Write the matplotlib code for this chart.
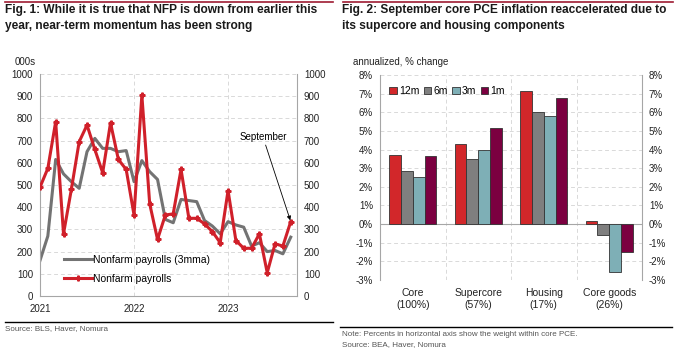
import matplotlib
matplotlib.use("Agg")
import matplotlib.pyplot as plt
from matplotlib.lines import Line2D
import numpy as np

plt.rcParams['font.family'] = ['Liberation Sans', 'DejaVu Sans']

# ---- Fig 1 data ----
months = list(range(33))  # Jan 2021 .. Sep 2023
nfp = [490, 575, 785, 280, 480, 695, 770, 660, 555, 780, 615, 570,
       365, 905, 415, 255, 365, 370, 570, 350, 350, 325, 290, 240,
       475, 250, 215, 215, 280, 105, 235, 225, 335]
nfp_3mma = [160, 270, 615, 550, 515, 485, 650, 710, 665, 665, 650, 655,
            515, 610, 560, 525, 345, 330, 435, 430, 425, 340, 315, 280,
            335, 320, 310, 225, 240, 200, 205, 190, 265]
year_ticks = [0, 12, 24]
year_labels = ['2021', '2022', '2023']

# ---- Fig 2 data ----
categories = ['Core\n(100%)', 'Supercore\n(57%)', 'Housing\n(17%)', 'Core goods\n(26%)']
series_names = ['12m', '6m', '3m', '1m']
v12m = [3.7, 4.3, 7.15, 0.15]
v6m = [2.85, 3.5, 6.0, -0.6]
v3m = [2.55, 4.0, 5.8, -2.55]
v1m = [3.65, 5.15, 6.75, -1.5]
bar_colors = ['#d2272a', '#7f7f7f', '#7eafb6', '#7b0040']

W, H = 678, 353
fig = plt.figure(figsize=(W / 100, H / 100), dpi=100)

def fx(px):
    return px / W

def fy(py):
    return 1 - py / H

red_top = '#9e1b32'
# top rules
fig.add_artist(Line2D([fx(5), fx(333)], [fy(2), fy(2)], color=red_top, lw=1.2))
fig.add_artist(Line2D([fx(343), fx(673)], [fy(2), fy(2)], color=red_top, lw=1.2))
# titles
fig.text(fx(5), fy(4), "Fig. 1: While it is true that NFP is down from earlier this\nyear, near-term momentum has been strong",
         fontsize=8.6, fontweight='bold', va='top', ha='left', linespacing=1.45, color='#1a1a1a')
fig.text(fx(342), fy(4), "Fig. 2: September core PCE inflation reaccelerated due to\nits supercore and housing components",
         fontsize=8.6, fontweight='bold', va='top', ha='left', linespacing=1.45, color='#1a1a1a')
# bottom rules
fig.add_artist(Line2D([fx(5), fx(333)], [fy(322), fy(322)], color='black', lw=1.0))
fig.add_artist(Line2D([fx(340), fx(672)], [fy(327), fy(327)], color='black', lw=1.0))
fig.text(fx(5), fy(325), "Source: BLS, Haver, Nomura", fontsize=5.8, color='#555555', va='top')
fig.text(fx(342), fy(331), "Note: Percents in horizontal axis show the weight within core PCE.", fontsize=5.8, color='#555555', va='top')
fig.text(fx(342), fy(341), "Source: BEA, Haver, Nomura", fontsize=5.8, color='#555555', va='top')
fig.text(fx(15), fy(62), "000s", fontsize=7, va='center', ha='left', color='#222222')
fig.text(fx(353), fy(62), "annualized, % change", fontsize=7, va='center', ha='left', color='#222222')

spine_col = '#a6a6a6'
grid_kw = dict(color='#d9d9d9', linestyle=(0, (4, 3)), linewidth=0.7)

# ---- Left chart ----
ax1 = fig.add_axes([fx(40), fy(296), fx(297) - fx(40), fy(74) - fy(296)])
ax1.set_xlim(0, 32.8)
ax1.set_ylim(0, 1000)
ax1.set_yticks(range(0, 1001, 100))
ax1.set_xticks(year_ticks)
ax1.set_xticklabels(year_labels)
for y in range(100, 1001, 100):
    ax1.axhline(y, **grid_kw, zorder=0)
for x in year_ticks[1:]:
    ax1.axvline(x, **grid_kw, zorder=0)
ax1.plot(months, nfp_3mma, color='#737373', lw=2.2, zorder=2, label='Nonfarm payrolls (3mma)')
ax1.plot(months, nfp, color='#d0202a', lw=2.2, marker='P', markersize=3.5, zorder=3, label='Nonfarm payrolls')
ax1.spines['top'].set_visible(False)
for s in ['left', 'right', 'bottom']:
    ax1.spines[s].set_color(spine_col)
ax1.tick_params(axis='y', length=0, labelsize=7, labelright=True, pad=5, colors='#222222')
ax1.tick_params(axis='x', length=0, labelsize=7, pad=6, colors='#222222')
ax1.annotate('September', xy=(32, 335), xytext=(31.5, 715), fontsize=7, ha='right', va='center',
             arrowprops=dict(arrowstyle='-|>', color='black', lw=0.6, mutation_scale=6, shrinkA=0, shrinkB=1))
ax1.legend(loc='lower left', bbox_to_anchor=(0.055, 0.012), frameon=False, fontsize=7.5,
           handlelength=2.7, handletextpad=0.1, labelspacing=0.85)

# ---- Right chart ----
ax2 = fig.add_axes([fx(380), fy(280), fx(642) - fx(380), fy(75) - fy(280)])
x = np.arange(len(categories))
bw = 0.18
all_vals = [v12m, v6m, v3m, v1m]
for i, (vals, col, name) in enumerate(zip(all_vals, bar_colors, series_names)):
    ax2.bar(x + (i - 1.5) * bw, vals, width=bw, color=col, edgecolor='#333333', linewidth=0.6,
            label=name, zorder=3)
ax2.set_xlim(-0.5, 3.5)
ax2.set_ylim(-3, 8)
yt = list(range(-3, 9))
ax2.set_yticks(yt)
ax2.set_yticklabels([f'{v}%' for v in yt])
for y in yt:
    if y != 0:
        ax2.axhline(y, **grid_kw, zorder=0)
for xv in [0.5, 1.5, 2.5]:
    ax2.axvline(xv, **grid_kw, zorder=0)
ax2.axhline(0, color=spine_col, lw=0.8, zorder=2)
ax2.set_xticks(x)
ax2.set_xticklabels(categories)
ax2.spines['top'].set_visible(False)
ax2.spines['bottom'].set_visible(False)
for s in ['left', 'right']:
    ax2.spines[s].set_color(spine_col)
ax2.tick_params(axis='y', length=0, labelsize=7, labelright=True, pad=5, colors='#222222')
ax2.tick_params(axis='x', length=0, labelsize=7.5, pad=6, colors='#222222')
ax2.legend(loc='upper left', bbox_to_anchor=(0.0, 0.99), ncol=4, frameon=False, fontsize=7.5,
           handlelength=0.7, handleheight=0.7, handletextpad=0.2, columnspacing=0.45)

fig.savefig('out.png', dpi=100)
